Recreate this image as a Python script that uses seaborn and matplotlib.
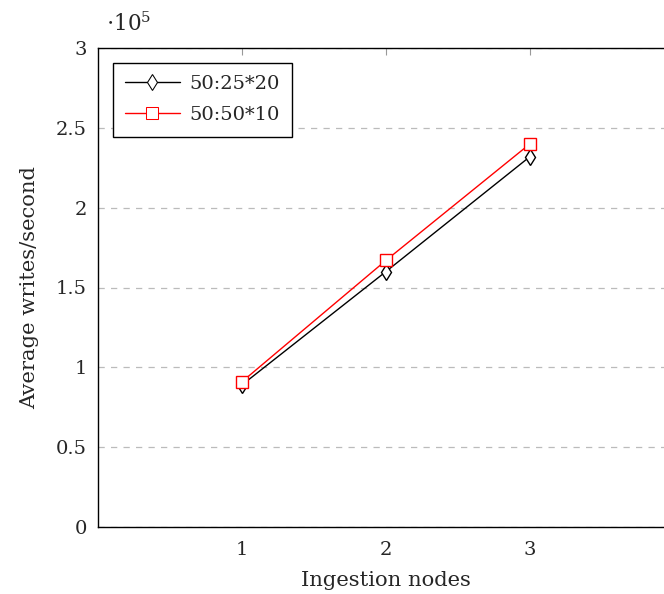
import matplotlib
matplotlib.use("Agg")
import matplotlib.pyplot as plt
import pandas as pd
import seaborn as sns
from matplotlib.ticker import FuncFormatter

# data
nodes = [1, 2, 3]
writes_25x20 = [89000, 160000, 232000]
writes_50x10 = [91000, 167000, 240000]
series_names = ["50:25*20", "50:50*10"]

df = pd.DataFrame({
    "nodes": nodes * 2,
    "writes": writes_25x20 + writes_50x10,
    "config": [series_names[0]] * 3 + [series_names[1]] * 3,
})

sns.set_style("white")
plt.rcParams["font.family"] = ["DejaVu Serif"]
plt.rcParams["mathtext.fontset"] = "dejavuserif"
FS = 14

fig = plt.figure(figsize=(6.64, 5.94), dpi=100)
ax = fig.add_axes([98 / 664, 67 / 594, 576 / 664, 479 / 594])

sns.lineplot(data=df, x="nodes", y="writes", hue="config", style="config",
             palette={series_names[0]: "black", series_names[1]: "red"},
             markers={series_names[0]: "d", series_names[1]: "s"},
             dashes=False, linewidth=1.0, markersize=8, ax=ax)

# marker faces white, edges coloured
for line, col in zip(ax.get_lines(), ["black", "red"]):
    line.set_markerfacecolor("white")
    line.set_markeredgecolor(col)
    line.set_markeredgewidth(1.0)

ax.set_xlim(0, 4)
ax.set_ylim(0, 300000)
ax.set_xticks(nodes)
ax.set_yticks([0, 50000, 100000, 150000, 200000, 250000, 300000])
ax.yaxis.set_major_formatter(FuncFormatter(lambda v, p: f"{v / 1e5:g}"))
ax.tick_params(axis="both", direction="in", length=5, width=0.8,
               color="#999999", labelsize=FS, top=True)
ax.tick_params(axis="x", pad=10)
ax.tick_params(axis="y", pad=8)
ax.grid(axis="y", linestyle=(0, (5, 5)), color="#bbbbbb", linewidth=0.9)
for sp in ax.spines.values():
    sp.set_color("black")
    sp.set_linewidth(1.0)

ax.set_xlabel("Ingestion nodes", fontsize=FS + 1.2, labelpad=9)
ax.set_ylabel("Average writes/second", fontsize=FS + 1.2, labelpad=12)
fig.text(106 / 664, 1 - 24 / 594, r"$\cdot 10^5$", fontsize=FS + 1.5,
         ha="left", va="center")

handles, labels = ax.get_legend_handles_labels()
for h, col in zip(handles, ["black", "red"]):
    h.set_markerfacecolor("white")
    h.set_markeredgecolor(col)
leg = ax.legend(handles, labels, loc="upper left", fontsize=FS,
                frameon=True, fancybox=False, edgecolor="black",
                handlelength=2.8, borderaxespad=0.75, framealpha=1,
                borderpad=0.65, labelspacing=0.65, handletextpad=0.5)
leg.get_frame().set_linewidth(1.0)

fig.savefig("out.png", dpi=100)
